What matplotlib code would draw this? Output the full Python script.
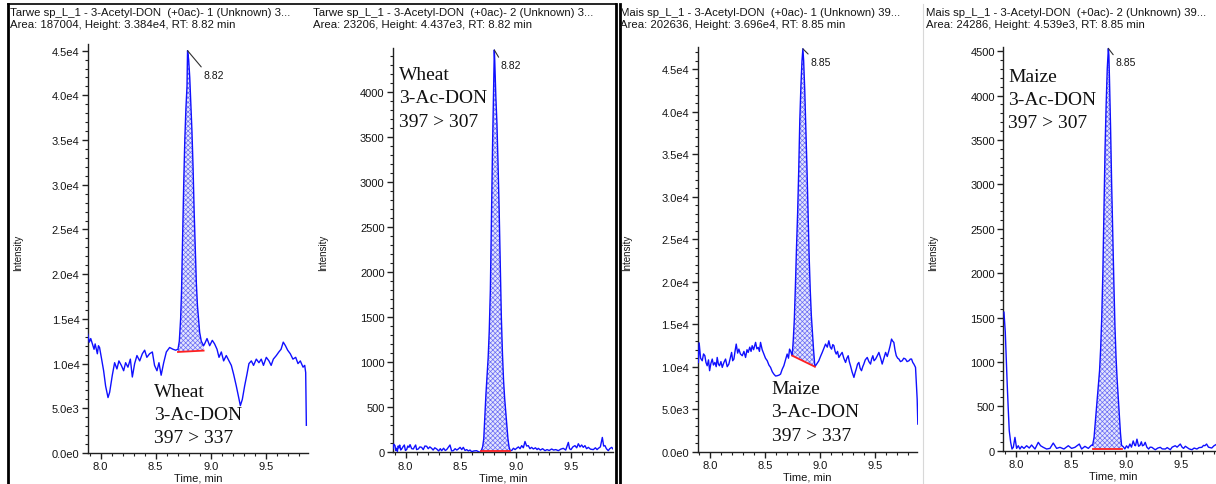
import numpy as np
import matplotlib
matplotlib.use("Agg")
import matplotlib.pyplot as plt
from matplotlib.ticker import MultipleLocator, FuncFormatter
from matplotlib.lines import Line2D

# ---------------- data ----------------
XLIM = (7.885, 9.885)
X_TICKS = [8.0, 8.5, 9.0, 9.5]

headers_line1 = [
    "Tarwe sp_L_1 - 3-Acetyl-DON  (+0ac)- 1 (Unknown) 3...",
    "Tarwe sp_L_1 - 3-Acetyl-DON  (+0ac)- 2 (Unknown) 3...",
    "Mais sp_L_1 - 3-Acetyl-DON  (+0ac)- 1 (Unknown) 39...",
    "Mais sp_L_1 - 3-Acetyl-DON  (+0ac)- 2 (Unknown) 39...",
]
headers_line2 = [
    "Area: 187004, Height: 3.384e4, RT: 8.82 min",
    "Area: 23206, Height: 4.437e3, RT: 8.82 min",
    "Area: 202636, Height: 3.696e4, RT: 8.85 min",
    "Area: 24286, Height: 4.539e3, RT: 8.85 min",
]
sample_labels = [
    ["Wheat", "3-Ac-DON", "397 > 337"],
    ["Wheat", "3-Ac-DON", "397 > 307"],
    ["Maize", "3-Ac-DON", "397 > 337"],
    ["Maize", "3-Ac-DON", "397 > 307"],
]
rt_labels = ["8.82", "8.82", "8.85", "8.85"]
apex_time = [8.79, 8.806, 8.843, 8.84]
apex_int = [45000, 4470, 47400, 4530]

# peak integration limits (time, baseline intensity)
peak_start_t = [8.703, 8.685, 8.746, 8.697]
peak_end_t = [8.936, 8.95, 8.952, 8.96]
base_start = [11300, 10, 11300, 15]
base_end = [11450, 10, 10000, 15]

y_tops = [45700, 4490, 47600, 4550]
y_major = [5000, 500, 5000, 500]
y_minor = [1000, 100, 1000, 100]

# Panel 1: Wheat 397 > 337
p1_time = [7.882, 7.897, 7.91, 7.94, 7.95, 7.97, 7.98, 7.99, 8.006, 8.027,
           8.045, 8.067, 8.082, 8.106, 8.127, 8.148, 8.166, 8.188, 8.209, 8.227,
           8.248, 8.27, 8.288, 8.309, 8.33, 8.355, 8.379, 8.40, 8.42, 8.445,
           8.47, 8.49, 8.512, 8.53, 8.55, 8.573, 8.597, 8.627, 8.658, 8.682,
           8.703, 8.715, 8.727, 8.735, 8.745, 8.755, 8.765, 8.775, 8.785, 8.79,
           8.80, 8.81, 8.82, 8.83, 8.84, 8.85, 8.86, 8.87, 8.88, 8.89,
           8.90, 8.915, 8.936,
           8.945, 8.967, 8.991, 9.015, 9.036, 9.058, 9.076, 9.097, 9.118, 9.142,
           9.167, 9.188, 9.209, 9.233, 9.255, 9.27, 9.288, 9.309, 9.33, 9.348,
           9.37, 9.39, 9.415, 9.439, 9.46, 9.48, 9.506, 9.53, 9.55, 9.57,
           9.597, 9.62, 9.64, 9.66, 9.68, 9.70, 9.724, 9.748, 9.773, 9.794,
           9.815, 9.84, 9.855, 9.864, 9.87]
p1_int = [13300, 12400, 12800, 11600, 12200, 11100, 12000, 11800, 10700, 9200,
          7500, 6200, 6800, 8700, 10100, 9400, 10300, 9800, 9200, 10100,
          9600, 10500, 8500, 10000, 10900, 10300, 11100, 11500, 10700, 11100,
          11300, 9800, 9200, 10100, 8700, 10100, 11300, 11800, 11600, 11500,
          11600, 12500, 15000, 18000, 24000, 30000, 35000, 38500, 41000, 45000,
          44000, 42000, 39000, 36000, 32000, 27000, 23000, 19000, 16500, 15000,
          13500, 12500, 12000,
          12200, 12800, 12000, 12600, 12200, 11600, 10700, 11300, 10300, 10900,
          10300, 9800, 8800, 7500, 6200, 5300, 6000, 7500, 8800, 10000,
          10300, 9800, 10500, 10100, 10500, 9800, 10700, 10300, 9800, 10500,
          10900, 11300, 11600, 12400, 12000, 11500, 11100, 10500, 10700, 10000,
          10300, 9600, 9800, 9000, 3100]

# Panel 2: Wheat 397 > 307
p2_time = [7.885, 7.893, 7.903, 7.910, 7.918, 7.925, 7.932, 7.939, 7.946, 7.955,
           7.964, 7.975, 7.988, 7.998, 8.009, 8.02, 8.03, 8.04, 8.055, 8.07,
           8.08, 8.091, 8.10, 8.115, 8.13, 8.145, 8.16, 8.175, 8.191, 8.205,
           8.22, 8.236, 8.25, 8.265, 8.282, 8.30, 8.315, 8.327, 8.345, 8.36,
           8.373, 8.39, 8.403, 8.418, 8.433, 8.45, 8.465, 8.479, 8.495, 8.51,
           8.524, 8.54, 8.555, 8.57, 8.585, 8.60, 8.62, 8.645, 8.665, 8.676,
           8.685, 8.70, 8.71, 8.72, 8.73, 8.74, 8.75, 8.76, 8.77, 8.78,
           8.79, 8.80, 8.806, 8.81, 8.82, 8.83, 8.84, 8.85, 8.86, 8.87,
           8.88, 8.89, 8.90, 8.91, 8.92, 8.93, 8.94, 8.95,
           8.964, 8.98, 8.995, 9.009, 9.025, 9.04, 9.055, 9.07, 9.085, 9.10,
           9.115, 9.13, 9.145, 9.161, 9.18, 9.195, 9.206, 9.225, 9.245, 9.267,
           9.285, 9.305, 9.327, 9.345, 9.365, 9.388, 9.41, 9.433, 9.455, 9.479,
           9.49, 9.503, 9.52, 9.539, 9.555, 9.57, 9.585, 9.60, 9.615, 9.63,
           9.645, 9.661, 9.68, 9.706, 9.725, 9.74, 9.752, 9.77, 9.788, 9.80,
           9.812, 9.825, 9.842, 9.855, 9.873, 9.885]
p2_int = [40, 90, 74, 20, 45, 10, 70, 50, 80, 25,
          37, 60, 81, 20, 30, 70, 55, 85, 40, 37,
          60, 81, 30, 37, 60, 55, 30, 70, 67, 40,
          60, 44, 25, 50, 37, 15, 40, 18, 45, 20,
          30, 60, 81, 15, 18, 40, 25, 37, 55, 30,
          55, 20, 30, 15, 25, 7, 15, 18, 5, 0,
          10, 60, 150, 400, 650, 850, 1050, 1350, 1800, 2600,
          3400, 4100, 4470, 4350, 3950, 3650, 3200, 2700, 2100, 1500,
          1100, 800, 600, 450, 300, 150, 60, 20,
          20, 45, 30, 45, 60, 40, 74, 50, 120, 70,
          74, 40, 55, 37, 50, 30, 44, 25, 40, 18,
          30, 20, 37, 25, 30, 18, 35, 44, 25, 110,
          40, 30, 60, 74, 50, 95, 60, 81, 55, 74,
          40, 55, 35, 30, 50, 30, 44, 60, 165, 70,
          74, 40, 18, 40, 55, 37]

# Panel 3: Maize 397 > 337
p3_time = [7.893, 7.900, 7.913, 7.928, 7.94, 7.952, 7.962, 7.973, 7.985, 7.995,
           8.007, 8.019, 8.03, 8.043, 8.055, 8.064, 8.075, 8.085, 8.098, 8.11,
           8.125, 8.14, 8.155, 8.17, 8.183, 8.195, 8.205, 8.216, 8.226, 8.237,
           8.25, 8.261, 8.275, 8.292, 8.307, 8.322, 8.335, 8.346, 8.36, 8.372,
           8.382, 8.395, 8.413, 8.425, 8.437, 8.448, 8.458, 8.473, 8.488, 8.503,
           8.519, 8.534, 8.549, 8.565, 8.579, 8.595, 8.61, 8.625, 8.64, 8.655,
           8.67, 8.685, 8.70, 8.712, 8.722, 8.733, 8.74,
           8.746, 8.755, 8.765, 8.775, 8.785, 8.795, 8.805, 8.815, 8.825, 8.835,
           8.843, 8.85, 8.86, 8.87, 8.88, 8.89, 8.90, 8.91, 8.92, 8.93,
           8.94, 8.952,
           8.958, 8.973, 8.988, 9.003, 9.019, 9.035, 9.049, 9.065, 9.079, 9.092,
           9.104, 9.115, 9.125, 9.136, 9.146, 9.158, 9.17, 9.185, 9.20, 9.215,
           9.231, 9.243, 9.255, 9.265, 9.276, 9.29, 9.307, 9.318, 9.328, 9.34,
           9.352, 9.364, 9.376, 9.387, 9.397, 9.41, 9.428, 9.443, 9.458, 9.468,
           9.479, 9.49, 9.504, 9.52, 9.534, 9.55, 9.564, 9.58, 9.595, 9.61,
           9.625, 9.637, 9.649, 9.66, 9.67, 9.68, 9.692, 9.705, 9.716, 9.73,
           9.746, 9.76, 9.776, 9.79, 9.807, 9.82, 9.831, 9.842, 9.852, 9.867,
           9.882, 9.888]
p3_int = [10500, 12800, 11000, 10700, 11500, 11290, 10500, 10110, 10800, 9530,
          10400, 10900, 10200, 10500, 10000, 11090, 10300, 10110, 10600, 9920,
          10500, 10900, 10000, 10310, 11000, 11680, 10700, 10900, 11800, 12660,
          11600, 12070, 11500, 11290, 11800, 11090, 12000, 11680, 12300, 11800,
          12470, 12000, 12860, 12100, 12270, 11800, 12860, 12000, 11490, 11000,
          10700, 10200, 9920, 9400, 9130, 8900, 8940, 9000, 9130, 9700,
          10110, 10800, 11490, 11000, 12070, 11800, 11490,
          11300, 13000, 15500, 19500, 24000, 28000, 33000, 39000, 43000, 46000,
          47400, 46000, 42500, 38000, 33500, 28000, 23000, 19000, 16000, 14000,
          12000, 10000,
          10110, 10400, 10700, 11200, 11680, 12200, 12660, 12300, 13050, 12300,
          12070, 12600, 12470, 11800, 11490, 11800, 11090, 11400, 11680, 11000,
          10500, 11000, 11290, 10600, 10110, 9400, 8740, 9300, 9720, 10300,
          10500, 9800, 9530, 10000, 10310, 10800, 11090, 10600, 10310, 10900,
          11290, 10700, 10900, 11300, 11680, 11000, 10310, 11000, 11680, 11200,
          11880, 12500, 13250, 13000, 12860, 12000, 11290, 11000, 10900, 10600,
          10700, 11000, 10900, 10600, 10700, 10900, 10900, 10500, 10310, 9920,
          6190, 3250]

# Panel 4: Maize 397 > 307
p4_time = [7.891, 7.903, 7.912, 7.921, 7.93, 7.939, 7.952, 7.964, 7.976, 7.991,
           8.006, 8.021, 8.036, 8.052, 8.073, 8.097, 8.121, 8.142, 8.173, 8.203,
           8.224, 8.248, 8.279, 8.309, 8.339, 8.37, 8.40, 8.436, 8.476, 8.506,
           8.536, 8.576, 8.597, 8.627, 8.658, 8.688,
           8.697, 8.71, 8.72, 8.73, 8.74, 8.75, 8.76, 8.77, 8.78, 8.79,
           8.80, 8.81, 8.82, 8.83, 8.84, 8.845, 8.85, 8.86, 8.87, 8.88,
           8.89, 8.90, 8.91, 8.92, 8.93, 8.94, 8.95, 8.96,
           8.975, 8.99, 9.005, 9.02, 9.036, 9.05, 9.066, 9.08, 9.087, 9.10,
           9.115, 9.127, 9.14, 9.15, 9.163, 9.175, 9.19, 9.206, 9.22, 9.236,
           9.255, 9.267, 9.29, 9.312, 9.33, 9.358, 9.375, 9.403, 9.42, 9.448,
           9.465, 9.494, 9.51, 9.524, 9.54, 9.554, 9.575, 9.60, 9.62, 9.645,
           9.665, 9.69, 9.705, 9.718, 9.733, 9.75, 9.78, 9.80, 9.82, 9.85,
           9.88]
p4_int = [1560, 1335, 1034, 733, 470, 226, 94, 19, 38, 150,
          26, 56, 19, 49, 26, 56, 30, 64, 19, 94,
          56, 38, 19, 26, 86, 26, 38, 19, 56, 26,
          38, 75, 19, 49, 26, 64,
          60, 150, 300, 450, 600, 750, 900, 1150, 1500, 2000,
          2700, 3400, 3900, 4300, 4530, 4450, 4200, 3650, 3000, 2450,
          1900, 1400, 1050, 800, 600, 400, 200, 60,
          45, 20, 55, 30, 75, 40, 110, 60, 56, 130,
          50, 60, 100, 55, 64, 94, 40, 19, 40, 38,
          20, 11, 30, 38, 20, 19, 35, 11, 40, 56,
          40, 75, 40, 26, 50, 38, 20, 11, 30, 19,
          35, 38, 60, 56, 75, 40, 30, 55, 70, 40,
          60]

times = [p1_time, p2_time, p3_time, p4_time]
ints = [p1_int, p2_int, p3_int, p4_int]

# ---------------- layout (pixels) ----------------
W, H = 1216, 485
fig = plt.figure(figsize=(W / 100, H / 100), dpi=100)
fig.patch.set_facecolor("white")

def fx(x):
    return x / W

def fy(y):
    return 1 - y / H

# left, right, top, bottom of each plotting area
ax_px = [(88, 308, 45.4, 454.0),
         (393, 613, 49.2, 453.3),
         (697.5, 917.5, 48.1, 452.7),
         (1003.3, 1223.3, 47.7, 451.7)]
header_x = [10, 313, 620, 926]
ylabel_x = [18, 323, 627, 933]
label_x = [154, 399, 771.5, 1008]
label_y0 = [396.7, 80.0, 394.0, 81.7]
label_dy = 23.3
rt_offset = [(16, -19), (6, -10), (8, -8), (7, -9)]

SANS = "Liberation Sans"
SERIF = "Liberation Serif"
TXT = "#151515"
plt.rcParams["hatch.linewidth"] = 0.5


def sci_fmt(v, pos):
    if v == 0:
        return "0.0e0"
    e = int(np.floor(np.log10(abs(v)) + 1e-9))
    m = v / 10 ** e
    return f"{m:.1f}e{e}"


for i in range(4):
    l, r, t, b = ax_px[i]
    ax = fig.add_axes([fx(l), fy(b), (r - l) / W, (b - t) / H])
    ax.set_facecolor("none")
    tt = np.asarray(times[i], dtype=float)
    yy = np.asarray(ints[i], dtype=float)

    # integrated peak area
    m = (tt >= peak_start_t[i]) & (tt <= peak_end_t[i])
    px = np.concatenate([tt[m], [peak_end_t[i], peak_start_t[i]]])
    py = np.concatenate([yy[m], [base_end[i], base_start[i]]])
    ax.fill(px, py, facecolor="#e4e6fd", edgecolor="#6a6cf4", hatch="xxxxxxx",
            linewidth=0, zorder=1)
    ax.plot(tt, yy, color="#1010ff", lw=1.0, zorder=3)
    ax.plot([peak_start_t[i], peak_end_t[i]], [base_start[i], base_end[i]],
            color="#ff2020", lw=1.3, zorder=4)

    ax.set_xlim(*XLIM)
    ax.set_ylim(0, y_tops[i])
    for s in ("top", "right"):
        ax.spines[s].set_visible(False)
    for s in ("left", "bottom"):
        ax.spines[s].set_color("#202020")
        ax.spines[s].set_linewidth(1.0)
    ax.set_xticks(X_TICKS)
    ax.set_xticklabels([f"{v:.1f}" for v in X_TICKS])
    ax.xaxis.set_minor_locator(MultipleLocator(0.1))
    ax.yaxis.set_major_locator(MultipleLocator(y_major[i]))
    ax.yaxis.set_minor_locator(MultipleLocator(y_minor[i]))
    if i in (0, 2):
        ax.yaxis.set_major_formatter(FuncFormatter(sci_fmt))
    else:
        ax.yaxis.set_major_formatter(FuncFormatter(lambda v, p: f"{int(round(v))}"))
    ax.tick_params(axis="both", which="major", length=4, width=1.0,
                   color="#202020", labelsize=8, pad=2, direction="out")
    ax.tick_params(axis="both", which="minor", length=2, width=0.8,
                   color="#202020", direction="out")
    for lab in ax.get_xticklabels() + ax.get_yticklabels():
        lab.set_fontfamily(SANS)
        lab.set_color(TXT)
    ax.set_xlabel("Time, min", fontsize=8, family=SANS, labelpad=1,
                  color=TXT)

    # RT annotation
    ax.annotate(rt_labels[i], xy=(apex_time[i], apex_int[i]),
                xytext=rt_offset[i], textcoords="offset pixels",
                ha="left", va="top", fontsize=7.5, family=SANS,
                color=TXT,
                arrowprops=dict(arrowstyle="-", color="#303030", lw=0.8,
                                shrinkA=0, shrinkB=0, relpos=(0, 1)),
                annotation_clip=False, zorder=5)

    # headers
    fig.text(fx(header_x[i]), fy(12.5), headers_line1[i], fontsize=8.2,
             family=SANS, ha="left", va="center", color=TXT)
    fig.text(fx(header_x[i]), fy(24.5), headers_line2[i], fontsize=8.2,
             family=SANS, ha="left", va="center", color=TXT)
    # Intensity
    fig.text(fx(ylabel_x[i]), fy(253), "Intensity", fontsize=7, family=SANS,
             rotation=90, ha="center", va="center", color=TXT)
    # sample labels
    for k, s in enumerate(sample_labels[i]):
        fig.text(fx(label_x[i]), fy(label_y0[i] + k * label_dy), s,
                 fontsize=14, family=SERIF, ha="left", va="baseline",
                 color="#111111")

# frames
frame_lines = [
    ([8, 8], [5, 490], 2.0, "#000000"),
    ([8, 616], [5, 5], 1.2, "#000000"),
    ([616, 616], [5, 490], 2.0, "#000000"),
    ([620, 620], [5, 490], 2.0, "#000000"),
    ([923, 923], [5, 490], 0.8, "#d8d8d8"),
]
for xs, ys, lw, c in frame_lines:
    fig.add_artist(Line2D([fx(x) for x in xs], [fy(y) for y in ys], lw=lw,
                          color=c, transform=fig.transFigure))

fig.savefig("out.png", dpi=100)
